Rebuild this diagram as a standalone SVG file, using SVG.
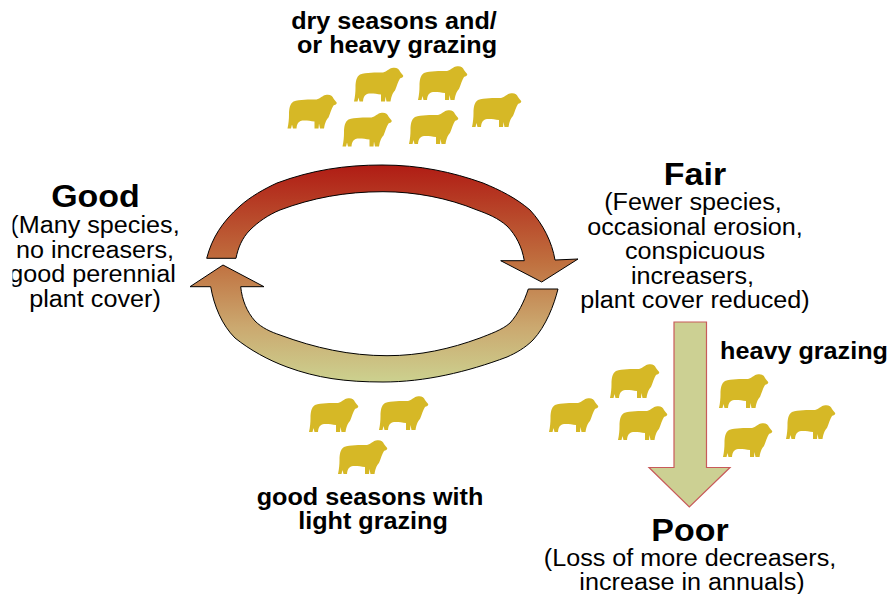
<svg xmlns="http://www.w3.org/2000/svg" xmlns:xlink="http://www.w3.org/1999/xlink" width="892" height="594" viewBox="0 0 892 594">
<style>
text{font-family:"Liberation Sans",Arial,sans-serif;text-anchor:middle;fill:#000;transform-box:fill-box;transform-origin:center;transform:scaleX(1.095)}
.t{font-size:31px;font-weight:bold}
.b{font-size:23px}
.l{font-size:23px;font-weight:bold}
.c{stroke:#000;stroke-width:1;fill:url(#g)}
.s{fill:#d6b826}
</style>
<defs>
<linearGradient id="g" gradientUnits="userSpaceOnUse" x1="0" y1="165" x2="0" y2="382">
<stop offset="0" stop-color="#b01c14"/>
<stop offset="0.45" stop-color="#c0703f"/>
<stop offset="0.75" stop-color="#cba970"/>
<stop offset="1" stop-color="#ccd18f"/>
</linearGradient>
<clipPath id="cl"><rect x="12.500" y="170" width="200" height="150"/></clipPath>
<symbol id="sheep" overflow="visible">
<path d="M6 7 C12 5 22 5 29 5 C33 4 35 1 38 .5 C42 -.5 45 1 46 4 C47 6 49 7 49.300 8.500 C49 10 47 10.500 46 11 C44 14 43 18 41 23 C39 25 37.500 28 36.500 34 L32.500 34 L31.500 29 L31 34 L27 34 L27 27 C22 26.500 17 25.500 13 26.500 C11 27.500 9.500 29 9 34 L5.500 34 L4.500 30 L3.500 34 L0 34 C1 29 1.500 25 1.500 20 C1.500 14 2.500 9 6 7Z"/>
</symbol>
</defs>
<g id="connectors">
<path id="top-arrow" class="c" d="M206.700 258.300 C212 238 222 222 240 206 C250 197 264 189 277 183 C312 170 345 165 382 165 C420 165 452 172 483 183 C500 190 516 198 530 210 C543 224 552 242 555 260 L578 259 L541.700 282 L500.700 260.700 L524.300 260.700 C522 247 516 235 507 226 C498 218 488 214 477 210 C448 198 415 191.700 383 191.700 C345 191.700 312 198 280 210 C268 215 258 222 250 230 C242 238 238 248 236 258.300Z"/>
<path id="bottom-arrow" class="c" d="M558 289 C554 305 546 326 533 340 C525 348 516 353 507 357 C467 372 425 382 383 382 C345 382 317 378 287 367 C268 360 250 350 235 338 C222 325 214 306 210.700 286.700 L190 286.700 L223 265 L264 286.700 L240.700 286.700 C242 300 247 312 255 321 C262 328 271 332 280 335 C315 348 350 355.700 387 355.700 C420 355.700 450 349 480 338 C490 334 502 330 510 323 C518 314 524 302 528.300 289Z"/>
<path id="down-arrow" d="M674 322 H706.500 V467.500 H730 L689.300 507 L649 467.500 H674Z" fill="#ccd093" stroke="#c85a5a" stroke-width="1.200"/>
</g>
<g id="node-good" clip-path="url(#cl)">
<text class="t" x="95.500" y="207">Good</text>
<text class="b" x="95" y="233">(Many species,</text>
<text class="b" x="95" y="258">no increasers,</text>
<text class="b" x="92.500" y="282">good perennial</text>
<text class="b" x="95" y="307">plant cover)</text>
</g>
<g id="node-fair">
<text class="t" x="695" y="185">Fair</text>
<text class="b" x="693" y="210">(Fewer species,</text>
<text class="b" x="695" y="235">occasional erosion,</text>
<text class="b" x="695" y="259">conspicuous</text>
<text class="b" x="692.500" y="284">increasers,</text>
<text class="b" x="695" y="308">plant cover reduced)</text>
</g>
<g id="node-poor">
<text class="t" x="690" y="541">Poor</text>
<text class="b" x="690" y="566">(Loss of more decreasers,</text>
<text class="b" x="692" y="590">increase in annuals)</text>
</g>
<g id="label-dry">
<text class="l" x="394" y="29">dry seasons and/</text>
<text class="l" x="397" y="53">or heavy grazing</text>
</g>
<g id="label-good-seasons">
<text class="l" x="370" y="505">good seasons with</text>
<text class="l" x="373" y="529">light grazing</text>
</g>
<g id="label-heavy">
<text class="l" x="804" y="359">heavy grazing</text>
</g>
<g id="sheep-top" class="s">
<use xlink:href="#sheep" href="#sheep" x="287.500" y="94.500"/>
<use xlink:href="#sheep" href="#sheep" x="354" y="67.500"/>
<use xlink:href="#sheep" href="#sheep" x="342.500" y="112.500"/>
<use xlink:href="#sheep" href="#sheep" x="418" y="66"/>
<use xlink:href="#sheep" href="#sheep" x="472" y="93"/>
<use xlink:href="#sheep" href="#sheep" x="409" y="110"/>
</g>
<g id="sheep-bottom" class="s">
<use xlink:href="#sheep" href="#sheep" x="309" y="398"/>
<use xlink:href="#sheep" href="#sheep" x="379" y="396"/>
<use xlink:href="#sheep" href="#sheep" x="338" y="440"/>
</g>
<g id="sheep-right" class="s">
<use xlink:href="#sheep" href="#sheep" x="549" y="398"/>
<use xlink:href="#sheep" href="#sheep" x="610" y="364"/>
<use xlink:href="#sheep" href="#sheep" x="618" y="406"/>
<use xlink:href="#sheep" href="#sheep" x="719" y="374"/>
<use xlink:href="#sheep" href="#sheep" x="723" y="423"/>
<use xlink:href="#sheep" href="#sheep" x="786" y="405"/>
</g>
</svg>
